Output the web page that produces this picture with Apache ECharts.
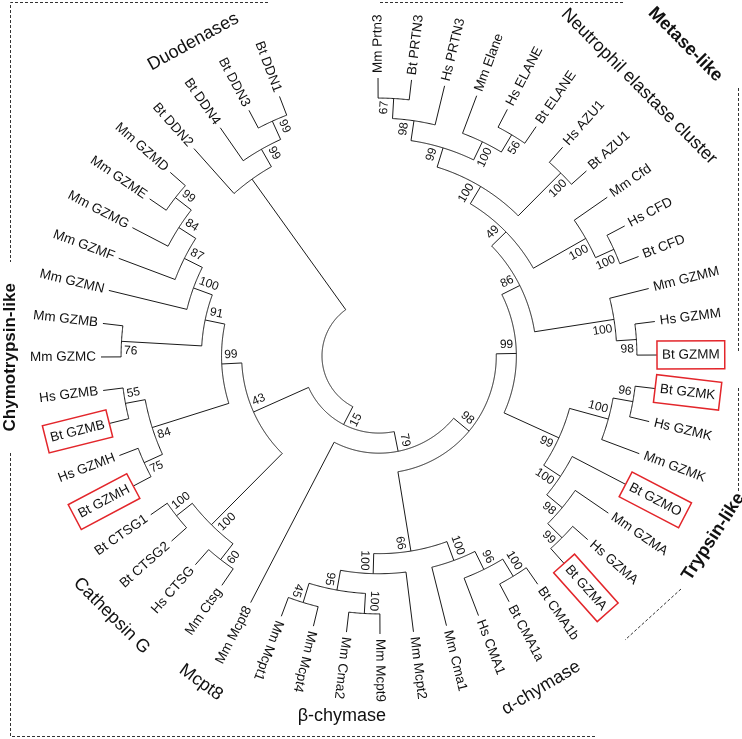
<!DOCTYPE html>
<html><head><meta charset="utf-8">
<script src="https://cdn.jsdelivr.net/npm/echarts/dist/echarts.min.js"></script>
<style>html,body{margin:0;padding:0;background:#fff}#c{width:742px;height:739px}</style>
</head><body><div id="c"></div>
<script>
// ---- data ----
const leaves = ['Mm Prtn3','Bt PRTN3','Hs PRTN3','Mm Elane','Hs ELANE','Bt ELANE','Hs AZU1','Bt AZU1','Mm Cfd','Hs CFD','Bt CFD',
  'Mm GZMM','Hs GZMM','Bt GZMM','Bt GZMK','Hs GZMK','Mm GZMK','Bt GZMO','Mm GZMA','Hs GZMA','Bt GZMA',
  'Bt CMA1b','Bt CMA1a','Hs CMA1','Mm Cma1','Mm Mcpt2','Mm Mcpt9','Mm Cma2','Mm Mcpt4','Mm Mcpt1','Mm Mcpt8',
  'Mm Ctsg','Hs CTSG','Bt CTSG2','Bt CTSG1','Bt GZMH','Hs GZMH','Bt GZMB','Hs GZMB','Mm GZMC','Mm GZMB',
  'Mm GZMN','Mm GZMF','Mm GZMG','Mm GZME','Mm GZMD','Bt DDN2','Bt DDN4','Bt DDN3','Bt DDN1'];
const gapSlots = 3; // empty angular slots between the last and first leaf

// topology with bootstrap support (second child = side where the support value is written)
const metase = "((Mm GZMM,(Hs GZMM,Bt GZMM)98)100,((Mm Cfd,(Hs CFD,Bt CFD)100)100,((Hs AZU1,Bt AZU1)100,((Mm Elane,(Hs ELANE,Bt ELANE)56)100,(Hs PRTN3,(Bt PRTN3,Mm Prtn3)67)98)99)100)49)86";
const trypsin = "((Mm GZMK,(Hs GZMK,Bt GZMK)96)100,(Bt GZMO,(Mm GZMA,(Hs GZMA,Bt GZMA)99)98)100)99";
const chymase = "((Mm Cma1,(Hs CMA1,(Bt CMA1a,Bt CMA1b)100)96)100,(Mm Mcpt2,((Mm Cma2,Mm Mcpt9)100,(Mm Mcpt4,Mm Mcpt1)45)95)100)66";
const cathepsin = "((Bt CTSG2,Bt CTSG1)100,(Hs CTSG,Mm Ctsg)60)100";
const chymotrypsin = "(((Bt GZMB,Hs GZMB)55,(Hs GZMH,Bt GZMH)75)84,((Mm GZMB,Mm GZMC)76,(Mm GZMN,(Mm GZMF,(Mm GZMG,(Mm GZME,Mm GZMD)99)84)87)100)91)99";
const duodenases = "(Bt DDN2,(Bt DDN4,(Bt DDN3,Bt DDN1)99)99)";
const newick = "(((" + cathepsin + "," + chymotrypsin + ")43,(Mm Mcpt8,(" + chymase + ",(" + trypsin + "," + metase + ")99)98)79)15," + duodenases + ")";

const highlighted = ['Bt GZMM','Bt GZMK','Bt GZMO','Bt GZMA','Bt GZMB','Bt GZMH'];
const groupNames = ['Duodenases','Neutrophil elastase cluster','Metase-like','Chymotrypsin-like','Trypsin-like','Cathepsin G','Mcpt8','β-chymase','α-chymase'];
const groupBold  = [false,false,true,true,true,false,false,false,false];
// layout of the group captions: [radius level, angle slot, rotation deg]
const groupLayout = [[15.33,47.61,29],[15.8,6.38,-45],[18.91,6.46,-45],[15.53,39.0,90],[16.08,17.13,57],[15.72,32.65,-45],[15.67,30.16,-36],[15.18,26.88,0],[15.55,22.27,31]];

// ---- tree build ----
function parse(s){
  let i=0;
  function node(){
    if(s[i]==='('){
      i++; const ch=[node()];
      while(s[i]===','){i++; ch.push(node());}
      i++;
      let lab=''; while(i<s.length && /[0-9]/.test(s[i])) lab+=s[i++];
      return {children:ch, support:lab};
    }
    let name=''; while(i<s.length && !',()'.includes(s[i])) name+=s[i++];
    return {name:name.trim()};
  }
  return node();
}
const root = parse(newick);
function calc(n){
  if(!n.children){ n.h=0; n.a=leaves.indexOf(n.name); n.leaf=true; return; }
  n.children.forEach(calc);
  n.h = Math.max(...n.children.map(c=>c.h))+1;
  n.a = n.children.reduce((s,c)=>s+c.a,0)/n.children.length;
}
calc(root);
const maxH = root.h;
const flat=[];
(function walk(n,parent){
  const lv = maxH-n.h;
  const item = {node:n, value:[lv, n.a, parent? maxH-parent.h : lv,
     n.children? Math.min(...n.children.map(c=>c.a)) : n.a,
     n.children? Math.max(...n.children.map(c=>c.a)) : n.a,
     n.children? n.children[n.children.length-1].a : n.a]};
  flat.push(item);
  if(n.children) n.children.forEach(c=>walk(c,n));
})(root,null);

const LINE='#1a1a1a', RED='#e3262b', FONT='Arial, "Liberation Sans", sans-serif';

function renderNode(params, api){
  const cs=params.coordSys, cx=cs.cx, cy=cs.cy;
  const lv=api.value(0), a=api.value(1), plv=api.value(2), amin=api.value(3), amax=api.value(4), a2=api.value(5);
  const nd = flat[params.dataIndex].node;
  const out=[];
  const p=api.coord([lv,a]);
  if(plv!==lv){
    const pp=api.coord([plv,a]);
    out.push({type:'line',shape:{x1:pp[0],y1:pp[1],x2:p[0],y2:p[1]},style:{stroke:LINE,lineWidth:1}});
  }
  if(!nd.leaf){
    const pts=[];
    for(let t=amin;t<amax;t+=0.04) pts.push(api.coord([lv,t]));
    pts.push(api.coord([lv,amax]));
    out.push({type:'polyline',shape:{points:pts},style:{stroke:LINE,fill:null,lineWidth:1}});
  }
  const th=Math.atan2(p[1]-cy,p[0]-cx), deg=th*180/Math.PI;
  const flip = deg>114 || deg< -100;
  const ux=Math.cos(th), uy=Math.sin(th);
  const rot = flip ? -(th-Math.PI) : -th;
  if(nd.leaf){
    const boxed = highlighted.includes(nd.name);
    const off = boxed?0:5;
    const st={text:nd.name,font:'13.5px '+FONT,fill:'#111',align:flip?'right':'left',verticalAlign:'middle'};
    if(boxed){ st.padding=[6,5]; st.lineHeight=16; st.borderColor=RED; st.borderWidth=1.5; }
    out.push({type:'text',x:p[0]+ux*off,y:p[1]+uy*off,rotation:rot,style:st});
  } else if(nd.support){
    const side=Math.sign(a2-a)||1;
    const x=p[0]-ux*3-uy*side*9, y=p[1]-uy*3+ux*side*9;
    out.push({type:'text',x:x,y:y,rotation:rot,style:{text:nd.support,font:'12px '+FONT,fill:'#111',align:flip?'left':'right',verticalAlign:'middle'}});
  }
  return {type:'group',children:out};
}

function renderGroup(params, api){
  const i=params.dataIndex;
  const p=api.coord([api.value(0),api.value(1)]);
  return {type:'text',x:p[0],y:p[1],rotation:groupLayout[i][2]*Math.PI/180,
    style:{text:groupNames[i],font:(groupBold[i]?'bold ':'')+(i===3?'17px ':'18px ')+FONT,fill:'#111',align:'center',verticalAlign:'middle'}};
}

const dash={stroke:'#333',lineWidth:1,lineDash:[3,2],fill:null};
const chart=echarts.init(document.getElementById('c'),null,{renderer:'canvas'});
chart.setOption({
  animation:false,
  backgroundColor:'#fff',
  polar:{center:[379,356],radius:[57,278]},
  angleAxis:{type:'value',min:0,max:leaves.length-1+gapSlots,startAngle:90.2,clockwise:true,show:false,
    axisLine:{show:false},axisTick:{show:false},axisLabel:{show:false},splitLine:{show:false}},
  radiusAxis:{type:'value',min:0,max:maxH,show:false,
    axisLine:{show:false},axisTick:{show:false},axisLabel:{show:false},splitLine:{show:false}},
  series:[
    {type:'custom',coordinateSystem:'polar',renderItem:renderNode,data:flat.map(f=>f.value),clip:false,silent:true},
    {type:'custom',coordinateSystem:'polar',renderItem:renderGroup,data:groupLayout.map(g=>[g[0],g[1]]),clip:false,silent:true}
  ],
  graphic:[
    {type:'polyline',shape:{points:[[268,2.5],[10.5,2.5],[10.5,262]]},style:dash},
    {type:'polyline',shape:{points:[[10.5,453],[10.5,736.5],[597,736.5]]},style:dash},
    {type:'line',shape:{x1:380,y1:2.5,x2:625,y2:2.5},style:dash},
    {type:'line',shape:{x1:738.5,y1:88,x2:738.5,y2:352},style:dash},
    {type:'line',shape:{x1:738.5,y1:388,x2:738.5,y2:492},style:dash},
    {type:'line',shape:{x1:681,y1:589,x2:625,y2:640},style:dash}
  ]
});
</script></body></html>
